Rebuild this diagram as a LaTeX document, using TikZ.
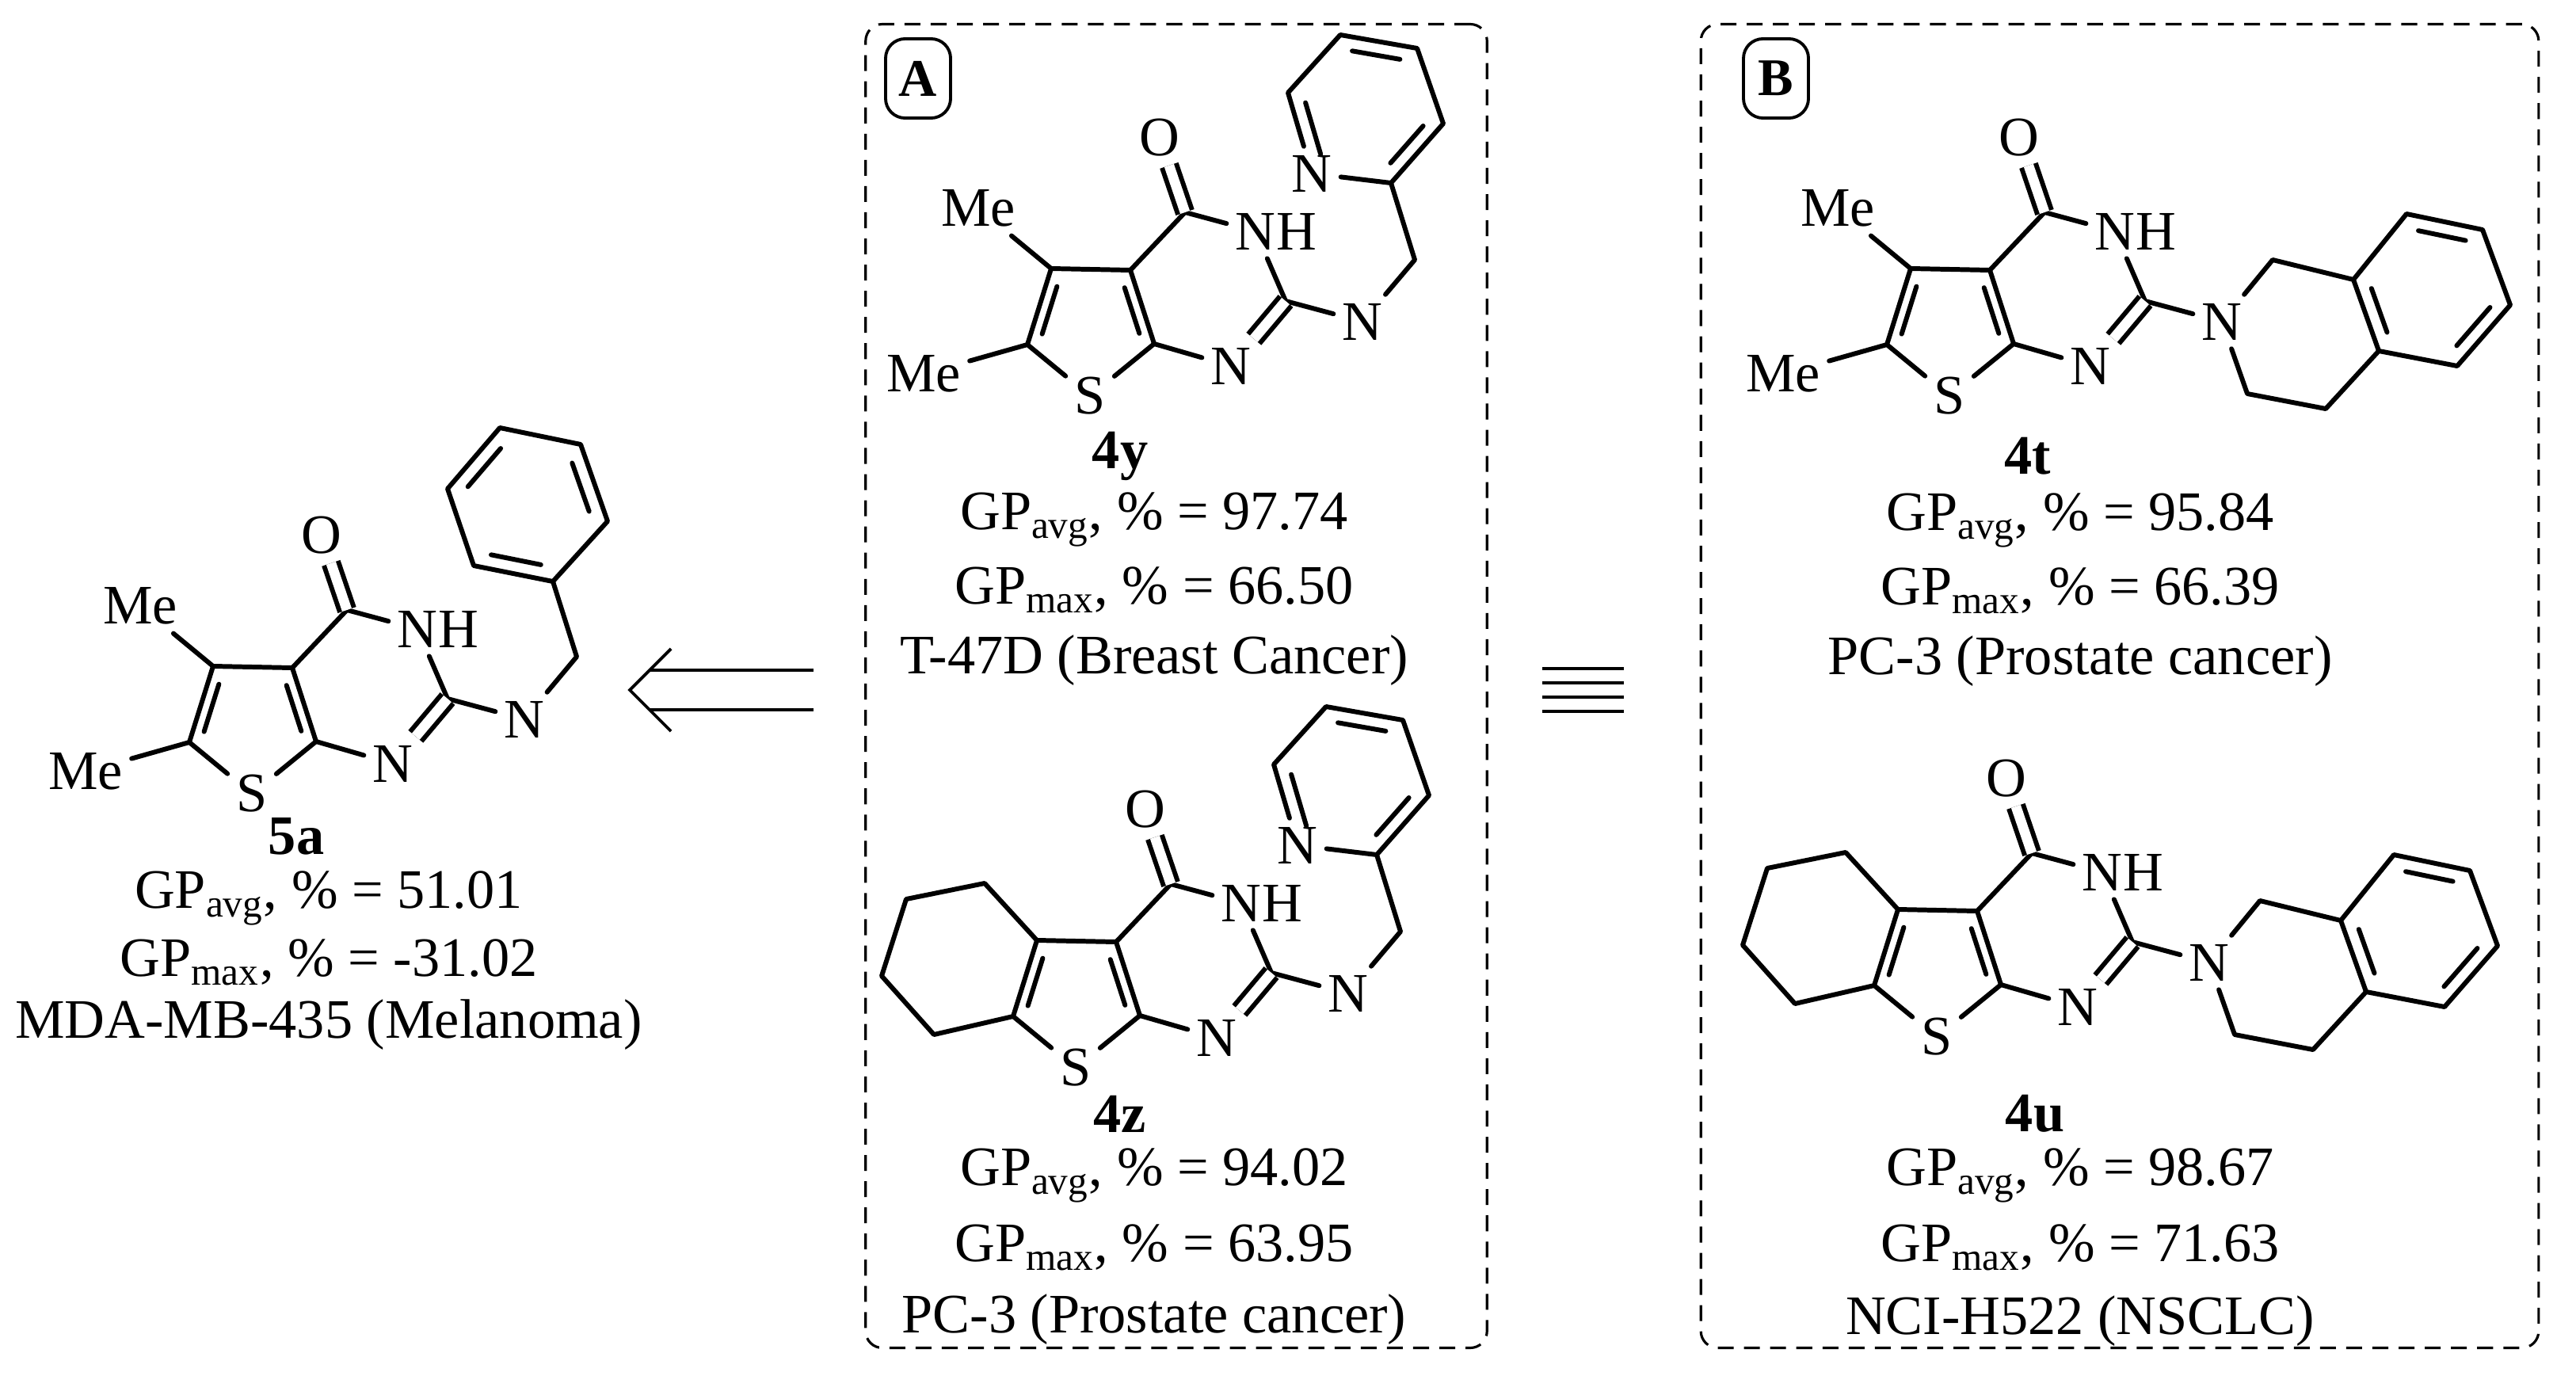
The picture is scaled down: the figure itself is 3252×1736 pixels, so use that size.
\documentclass[tikz,border=0pt]{standalone}
\usepackage{fontspec}
\setmainfont{Liberation Serif}
\usetikzlibrary{calc,positioning}

\begin{document}
\begin{tikzpicture}[
  x=0.01cm, y=-0.01cm,
  font=\fontsize{20}{24}\selectfont,
  bond/.style={line width=1.7pt,line cap=round,line join=round},
  dbond/.style={line width=1.7pt,double,double distance=3.6pt},
  atom/.style={inner sep=3pt},
  txt/.style={inner sep=0pt},
  cpd/.style={inner sep=0pt,font=\fontsize{20}{24}\selectfont\bfseries},
  panel/.style={draw,dash pattern=on 5.7pt off 3.7pt,line width=0.9pt,rounded corners=6pt},
  tag/.style={draw,line width=1.1pt,rounded corners=7pt,minimum width=0.82cm,minimum height=1.0cm,
    inner sep=0pt,font=\fontsize{19}{22}\selectfont\bfseries},
  rxn/.style={line width=1.1pt}
]
\useasboundingbox (0,0) rectangle (3252,1736);

% -------------------------
% Building blocks (origin at C3a of the thiophene)
% -------------------------
\def\inbond#1#2#3{\draw[bond,shorten <=2.5pt,shorten >=2.5pt] ($(#3)!.8!(#1)$) -- ($(#3)!.8!(#2)$);}

\def\thcore#1{%
  \coordinate (#1c3a) at (0,0);
  \coordinate (#1c4)  at (69,-73);
  \coordinate (#1c2)  at (196,39);
  \coordinate (#1c7a) at (30,93);
  \coordinate (#1c5)  at (-100,-2);
  \coordinate (#1c6)  at (-130,94);
  \coordinate (#1th)  at (-50,69);
  \node[atom] (#1o)  at (37,-167) {O};
  \node[atom] (#1n3) at (158,-49) {N};
  \node[atom,anchor=west,inner sep=0pt] (#1h3) at ([xshift=-3pt]#1n3.east) {H};
  \node[atom] (#1n1) at (127,121) {N};
  \node[atom] (#1s)  at (-51,159) {S};
  \node[atom] (#1nx) at (293,65) {N};
  \draw[bond] (#1c5) -- (#1c3a) -- (#1c4) -- (#1n3) -- (#1c2) -- (#1nx);
  \draw[bond] (#1c3a) -- (#1c7a) -- (#1n1);
  \draw[bond] (#1c5) -- (#1c6) -- (#1s) -- (#1c7a);
  \draw[dbond] (#1c4) -- (#1o);
  \draw[dbond] (#1c2) -- (#1n1);
  \inbond{#1c5}{#1c6}{#1th}
  \inbond{#1c3a}{#1c7a}{#1th}
}

\def\dimethyl#1{%
  \node[atom] (#1me1) at (-192,-78) {Me};
  \node[atom] (#1me2) at (-261,131) {Me};
  \draw[bond] (#1c5) -- (#1me1);
  \draw[bond] (#1c6) -- (#1me2);
}

\def\cyclohex#1{%
  \draw[bond] (#1c5) -- (-166,-74) -- (-265,-54) -- (-296,43) -- (-230,117) -- (#1c6);
}

\def\pyridyl#1{%
  \coordinate (#1ch) at (359,-13);
  \coordinate (#1p2) at (329,-110);
  \node[atom] (#1np) at (229,-122) {N};
  \coordinate (#1p6) at (199,-224);
  \coordinate (#1p5) at (265,-297);
  \coordinate (#1p4) at (362,-280);
  \coordinate (#1p3) at (395,-185);
  \coordinate (#1pc) at (297,-203);
  \draw[bond] (#1nx) -- (#1ch) -- (#1p2) -- (#1np) -- (#1p6) -- (#1p5) -- (#1p4) -- (#1p3) -- (#1p2);
  \inbond{#1np}{#1p6}{#1pc}
  \inbond{#1p5}{#1p4}{#1pc}
  \inbond{#1p3}{#1p2}{#1pc}
}

\def\benzyl#1{%
  \coordinate (#1ch) at (359,-14);
  \coordinate (#1b1) at (329,-109);
  \coordinate (#1b2) at (229,-129);
  \coordinate (#1b3) at (196,-226);
  \coordinate (#1b4) at (262,-303);
  \coordinate (#1b5) at (364,-282);
  \coordinate (#1b6) at (398,-185);
  \coordinate (#1bc) at (296,-206);
  \draw[bond] (#1nx) -- (#1ch) -- (#1b1);
  \draw[bond] (#1b1) -- (#1b2) -- (#1b3) -- (#1b4) -- (#1b5) -- (#1b6) -- cycle;
  \inbond{#1b2}{#1b1}{#1bc}
  \inbond{#1b3}{#1b4}{#1bc}
  \inbond{#1b5}{#1b6}{#1bc}
}

\def\isoquin#1{%
  \coordinate (#1qa) at (357,-13);
  \coordinate (#1q1) at (459,12);
  \coordinate (#1q2) at (526,-71);
  \coordinate (#1q3) at (622,-51);
  \coordinate (#1q4) at (657,44);
  \coordinate (#1q5) at (590,121);
  \coordinate (#1q6) at (491,102);
  \coordinate (#1qb) at (325,156);
  \coordinate (#1qc) at (424,175);
  \coordinate (#1qm) at (558,26);
  \draw[bond] (#1nx) -- (#1qa) -- (#1q1) -- (#1q2) -- (#1q3) -- (#1q4) -- (#1q5) -- (#1q6) -- (#1q1);
  \draw[bond] (#1q6) -- (#1qc) -- (#1qb) -- (#1nx);
  \inbond{#1q1}{#1q6}{#1qm}
  \inbond{#1q2}{#1q3}{#1qm}
  \inbond{#1q4}{#1q5}{#1qm}
}

% -------------------------
% Panels
% -------------------------
\node[panel,minimum width=7.84cm,minimum height=16.7cm] (boxA) at (1485,866) {};
\node[panel,minimum width=10.57cm,minimum height=16.7cm] (boxB) at (2676,866) {};
\node[tag] (tagA) at (1159,99) {A};
\node[tag] (tagB) at (2242,99) {B};

% -------------------------
% Molecules
% -------------------------
\begin{scope}[shift={(369,843)}]
  \thcore{m5a} \dimethyl{m5a} \benzyl{m5a}
\end{scope}
\begin{scope}[shift={(1427,341)}]
  \thcore{m4y} \dimethyl{m4y} \pyridyl{m4y}
\end{scope}
\begin{scope}[shift={(1409,1189)}]
  \thcore{m4z} \cyclohex{m4z} \pyridyl{m4z}
\end{scope}
\begin{scope}[shift={(2512,341)}]
  \thcore{m4t} \dimethyl{m4t} \isoquin{m4t}
\end{scope}
\begin{scope}[shift={(2496,1150)}]
  \thcore{m4u} \cyclohex{m4u} \isoquin{m4u}
\end{scope}

% -------------------------
% Labels and data
% -------------------------
\node[cpd] (lbl5a) at (374,1056) {5a};
\node[txt] (avg5a) at (415,1134) {GP\textsubscript{avg}, \% = 51.01};
\node[txt] (max5a) at (415,1215) {GP\textsubscript{max}, \% = -31.02};
\node[txt] (cell5a) at (415,1294) {MDA-MB-435 (Melanoma)};

\node[cpd] (lbl4y) at (1414,576) {4y};
\node[txt] (avg4y) at (1457,656) {GP\textsubscript{avg}, \% = 97.74};
\node[txt] (max4y) at (1457,745) {GP\textsubscript{max}, \% = 66.50};
\node[txt] (cell4y) at (1457,834) {T-47D (Breast Cancer)};

\node[cpd] (lbl4z) at (1414,1406) {4z};
\node[txt] (avg4z) at (1457,1484) {GP\textsubscript{avg}, \% = 94.02};
\node[txt] (max4z) at (1457,1575) {GP\textsubscript{max}, \% = 63.95};
\node[txt] (cell4z) at (1457,1666) {PC-3 (Prostate cancer)};

\node[cpd] (lbl4t) at (2560,576) {4t};
\node[txt] (avg4t) at (2626,657) {GP\textsubscript{avg}, \% = 95.84};
\node[txt] (max4t) at (2626,746) {GP\textsubscript{max}, \% = 66.39};
\node[txt] (cell4t) at (2626,835) {PC-3 (Prostate cancer)};

\node[cpd] (lbl4u) at (2569,1406) {4u};
\node[txt] (avg4u) at (2626,1484) {GP\textsubscript{avg}, \% = 98.67};
\node[txt] (max4u) at (2626,1575) {GP\textsubscript{max}, \% = 71.63};
\node[txt] (cell4u) at (2626,1668) {NCI-H522 (NSCLC)};

% -------------------------
% Retrosynthetic arrow and equivalence sign
% -------------------------
\coordinate (arrtip) at (795,871);
\coordinate (arrend) at (1027,871);
\draw[rxn] ([shift={(25,-25)}]arrtip) -- ([shift={(0,-25)}]arrend);
\draw[rxn] ([shift={(25,25)}]arrtip) -- ([shift={(0,25)}]arrend);
\draw[rxn] ([shift={(52,-52)}]arrtip) -- (arrtip) -- ([shift={(52,52)}]arrtip);

\foreach \yy in {844,862,880,898} {
  \draw[rxn] (1947,\yy) -- (2050,\yy);
}

\end{tikzpicture}
\end{document}
